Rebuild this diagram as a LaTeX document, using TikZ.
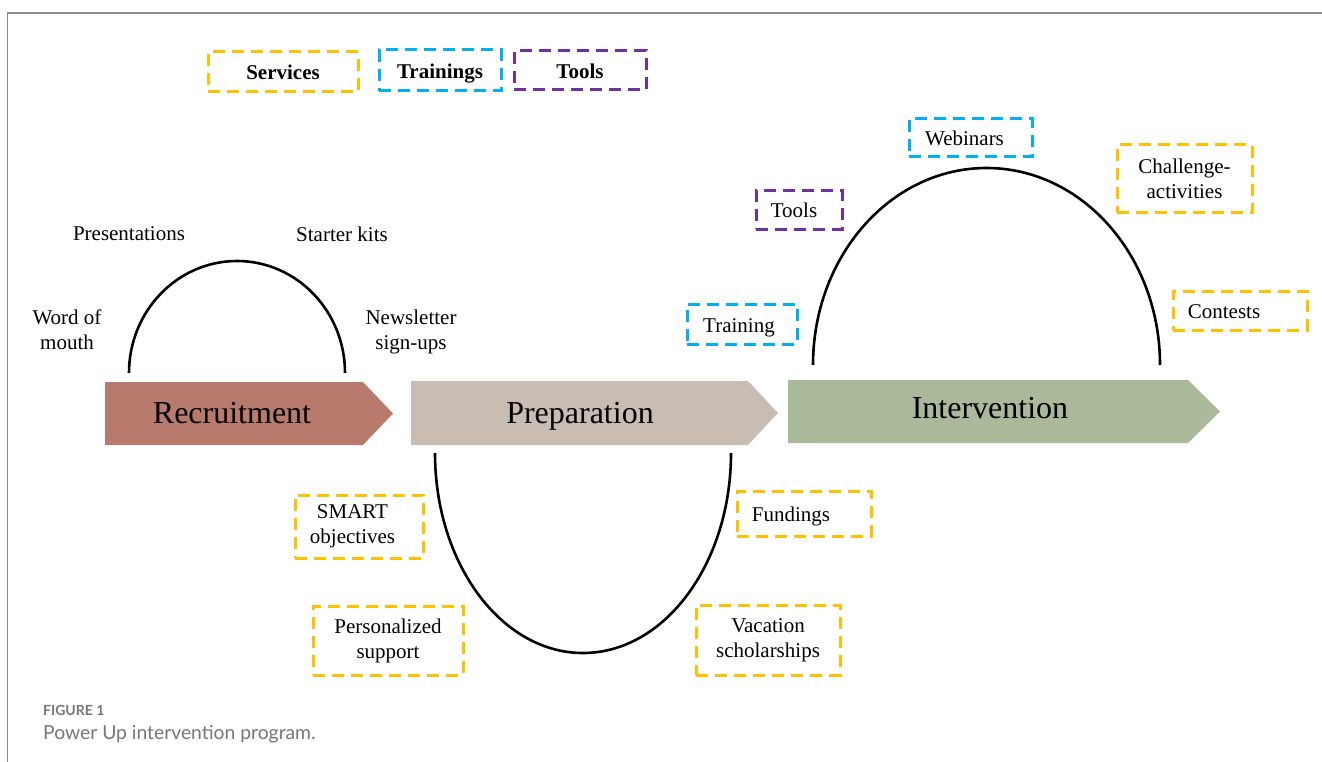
\documentclass[tikz,border=0pt]{standalone}
\usepackage{fontspec}
\setmainfont{Liberation Serif}
\newfontfamily\capfont{Lato}
\usepackage{tikz}

\definecolor{svcyellow}{RGB}{255,192,0}
\definecolor{trnblue}{RGB}{0,176,240}
\definecolor{toolpurple}{RGB}{112,48,160}
\definecolor{recfill}{RGB}{185,122,110}
\definecolor{prepfill}{RGB}{201,188,178}
\definecolor{intfill}{RGB}{169,185,154}
\definecolor{framegray}{RGB}{140,140,140}
\definecolor{capgray}{RGB}{118,118,118}

\newcommand{\leafsize}{\fontsize{21}{25}\selectfont}
\newcommand{\phasesize}{\fontsize{32}{36}\selectfont}
% text sitting a little left of its box centre
\newcommand{\leftby}[2]{#2\hspace*{#1}}

\tikzset{
 tagbox/.style={draw=#1, line width=3pt, dash pattern=on 12pt off 7pt,
   align=center, inner sep=0pt, font=\leafsize},
 oneline/.style={text height=16pt, text depth=0pt},
 leaf/.style={align=center, inner sep=0pt, font=\leafsize},
 phase/.style={anchor=base, inner sep=0pt, font=\phasesize},
 loop/.style={line width=2.6pt, black}
}

\begin{document}
\begin{tikzpicture}[x=1pt,y=-1pt]
 \useasboundingbox (0,0) rectangle (1322,762);
 \draw[framegray, line width=1.5pt] (7.5,762) -- (7.5,13) -- (1322,13);

 % legend
 \node[tagbox=svcyellow, oneline, minimum width=150, minimum height=40] (legsvc) at (283,72) {\textbf{Services}};
 \node[tagbox=trnblue, oneline, minimum width=122, minimum height=41] (legtrn) at (440,70.5) {\textbf{Trainings}};
 \node[tagbox=toolpurple, oneline, minimum width=132, minimum height=39] (legtool) at (580,70.5) {\textbf{Tools}};

 % phases
 \fill[recfill] (105,382) -- (363,382) -- (393,413.5) -- (363,445) -- (105,445) -- cycle;
 \node[phase] (recruit) at (232,423) {Recruitment};
 \fill[prepfill] (411,381) -- (748,381) -- (778,413) -- (748,445) -- (411,445) -- cycle;
 \node[phase] (prep) at (580,423) {Preparation};
 \fill[intfill] (788,380) -- (1188,380) -- (1220,411.5) -- (1188,443) -- (788,443) -- cycle;
 \node[phase] (interv) at (990,418) {Intervention};

 % loops
 \draw[loop] (129,373) arc[start angle=180, end angle=0, x radius=108pt, y radius=112pt];
 \draw[loop] (435,453) arc[start angle=180, end angle=360, x radius=148pt, y radius=200pt];
 \draw[loop] (813,365) arc[start angle=180, end angle=0, x radius=173.5pt, y radius=197pt];

 % recruitment
 \node[leaf] (present) at (129,234) {Presentations};
 \node[leaf] (starter) at (342,234) {Starter kits};
 \node[leaf] (mouth) at (67,330) {Word of\\mouth};
 \node[leaf] (news) at (411,332) {Newsletter\\sign-ups};

 % preparation
 \node[tagbox=svcyellow, minimum width=128, minimum height=63] (smart) at (359,526.5) {\leftby{13pt}{SMART}\\\leftby{13pt}{objectives}};
 \node[tagbox=svcyellow, minimum width=150, minimum height=69] (support) at (388,640.5) {Personalized\\support};
 \node[tagbox=svcyellow, oneline, minimum width=134, minimum height=45] (fund) at (804,513.5) {\leftby{26pt}{Fundings}};
 \node[tagbox=svcyellow, minimum width=144, minimum height=70] (vacat) at (768,640) {Vacation\\scholarships};

 % intervention
 \node[tagbox=trnblue, oneline, minimum width=110, minimum height=40] (train) at (742,324) {\leftby{6pt}{Training}};
 \node[tagbox=toolpurple, oneline, minimum width=86, minimum height=38] (tools) at (799,210) {\leftby{10pt}{Tools}};
 \node[tagbox=trnblue, oneline, minimum width=123, minimum height=38] (webin) at (970.5,138) {\leftby{12pt}{Webinars}};
 \node[tagbox=svcyellow, minimum width=135, minimum height=68] (chall) at (1184.5,179) {Challenge-\\activities};
 \node[tagbox=svcyellow, oneline, minimum width=134, minimum height=39] (contest) at (1240,310.5) {\leftby{32pt}{Contests}};

 % caption
 \node[anchor=base west, inner sep=0pt, text=capgray, font=\capfont\bfseries\fontsize{14}{16}\selectfont] (capnum) at (43,715) {FIGURE 1};
 \node[anchor=base west, inner sep=0pt, text=capgray, font=\capfont\fontsize{19.3}{22}\selectfont] (captxt) at (43,739) {Power Up intervention program.};
\end{tikzpicture}
\end{document}
